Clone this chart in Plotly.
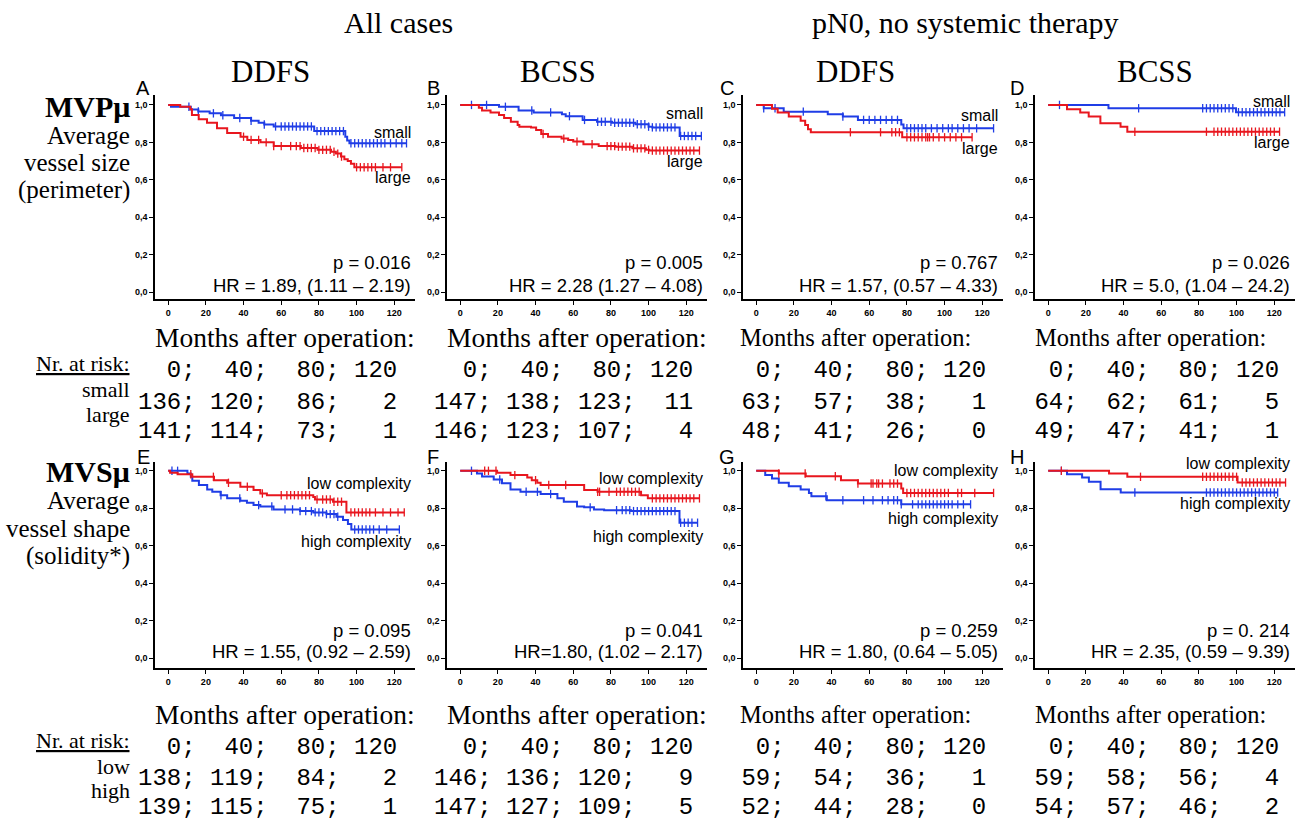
import plotly.graph_objects as go

W, H = 1303, 820
RED = "#e8161e"
BLUE = "#1f3de6"
SERIF = "Liberation Serif"
SANS = "Liberation Sans"
MONO = "Liberation Mono"

# ---------------- data ----------------
# Panel A : MVPmu, all cases, DDFS
A_small_t = [1.5, 12, 16, 22, 28, 35, 44, 48, 51, 56, 77.5, 94, 95, 96.2]
A_small_s = [0.99, 0.975, 0.965, 0.955, 0.945, 0.93, 0.915, 0.905, 0.895, 0.885, 0.86, 0.83, 0.81, 0.795]
A_small_c = [11, 16, 24, 29, 38, 44, 51, 57, 60, 62, 64, 66, 68, 70, 72, 74, 76, 79, 81, 83, 85, 87, 89, 91, 93,
             97, 99, 101, 103, 105, 107, 109, 111, 113, 115, 118, 121, 124, 126.5]
A_large_t = [6.4, 11.7, 12.6, 16.2, 20.6, 25.9, 31.3, 38.4, 42, 49, 56, 70.4, 79.3, 86.4, 89, 91.7, 93.5, 95.3, 97, 98.8]
A_large_s = [0.99, 0.977, 0.946, 0.923, 0.905, 0.875, 0.85, 0.83, 0.813, 0.80, 0.78, 0.77, 0.76, 0.75, 0.74, 0.724,
             0.71, 0.70, 0.685, 0.667]
A_large_c = [40, 44, 48, 52, 56, 60, 65, 68, 70, 72, 74, 76, 78, 80, 82, 84, 86, 88, 90, 92, 100, 102, 104, 106,
             108, 110, 114, 118, 124]

# Panel B : MVPmu, all cases, BCSS
B_small_t = [20.6, 31, 39, 54, 56, 65, 72.6, 80.6, 93, 100, 102, 116.5]
B_small_s = [0.99, 0.97, 0.96, 0.95, 0.94, 0.92, 0.91, 0.905, 0.897, 0.884, 0.88, 0.834]
B_small_c = [6, 14, 24, 38, 48, 58, 66, 73, 75, 77, 80, 82, 84, 86, 88, 90, 92, 94, 96, 98, 100, 102, 104, 106,
             108, 110, 112, 114, 117, 119, 121, 123, 125, 128]
B_large_t = [9.9, 11.6, 16.1, 20.6, 23.3, 26.9, 30.5, 31.4, 37.6, 40.3, 43, 46.6, 53.8, 57.3, 60, 65.4, 73.5,
             82.4, 91.4, 98.6, 100.4]
B_large_s = [0.985, 0.97, 0.96, 0.946, 0.93, 0.91, 0.893, 0.884, 0.88, 0.866, 0.845, 0.83, 0.82, 0.813, 0.804,
             0.79, 0.78, 0.777, 0.768, 0.76, 0.756]
B_large_c = [44, 55, 62, 70, 78, 80, 82, 84, 86, 88, 90, 92, 94, 96, 98, 100, 102, 104, 106, 108, 110, 112, 114,
             116, 118, 120, 122, 124, 127]

# Panel C : MVPmu, pN0 no systemic therapy, DDFS
C_small_t = [4, 14.6, 38, 46, 54, 77, 78.2]
C_small_s = [0.982, 0.964, 0.95, 0.938, 0.92, 0.895, 0.875]
C_small_c = [4, 10, 25, 46, 57, 60, 63, 66, 69, 72, 75, 80, 82, 84, 86, 88, 90, 93, 96, 99, 102, 104, 107, 110,
             113, 117, 126]
C_large_t = [8.4, 11.4, 17.3, 23.6, 26, 27.5, 29, 77.5]
C_large_s = [0.98, 0.96, 0.938, 0.916, 0.893, 0.87, 0.854, 0.827]
C_large_c = [50, 66, 72, 74, 76, 80, 82, 84, 86, 88, 90, 91, 92, 94, 97, 100, 103, 106, 109, 114.6]

# Panel D : MVPmu, pN0 no systemic therapy, BCSS
D_small_t = [32, 99.7]
D_small_s = [0.982, 0.961]
D_small_c = [6, 48, 82, 84, 86, 88, 90, 92, 94, 96, 98, 101, 103, 105, 107, 109, 111, 113, 115, 117, 119, 121,
             123, 125.5]
D_large_t = [10, 17, 21.5, 27.7, 38.4, 42]
D_large_s = [0.977, 0.96, 0.938, 0.902, 0.884, 0.857]
D_large_c = [46, 84, 88, 90, 92, 94, 96, 98, 100, 102, 104, 106, 108, 110, 112, 114, 116, 118, 120, 122.8]

# Panel E : MVSmu, all cases, DDFS
E_low_t = [1, 5, 12.8, 24.3, 31.3, 38.3, 45.3, 48.9, 52.4, 77, 77.9, 87.5, 94.6]
E_low_s = [0.99, 0.982, 0.968, 0.95, 0.936, 0.915, 0.897, 0.879, 0.87, 0.86, 0.847, 0.835, 0.778]
E_low_c = [12, 24, 32, 42, 50, 60, 63, 65, 67, 69, 71, 73, 75, 79, 82, 84, 86, 88, 90, 92, 97, 99, 101, 103, 105,
           107, 110, 114, 118, 122, 125.3]
E_high_t = [10.2, 12, 12.8, 16.3, 20.7, 23.4, 27.8, 31.3, 38.3, 41.8, 45.3, 48.9, 55.9, 70, 77, 84, 89.3, 92.8,
            95.4, 97.2]
E_high_s = [0.985, 0.968, 0.947, 0.924, 0.9, 0.888, 0.87, 0.853, 0.84, 0.83, 0.817, 0.81, 0.794, 0.785, 0.778,
            0.769, 0.755, 0.737, 0.716, 0.687]
E_high_c = [2, 5, 28, 38, 48, 55, 62, 66, 70, 73, 76, 78, 80, 82, 84, 86, 88, 90, 99, 101, 103, 105, 107, 109,
            112, 116, 122.7]

# Panel F : MVSmu, all cases, BCSS
F_low_t = [19.6, 26.7, 35.6, 38, 40.9, 42.7, 65.8, 72.9, 96, 99.6]
F_low_s = [0.99, 0.977, 0.964, 0.95, 0.936, 0.924, 0.897, 0.888, 0.87, 0.853]
F_low_c = [13, 15, 19, 29, 40, 47, 56, 73, 74, 79, 83, 85, 87, 89, 91, 93, 95, 102, 104, 106, 108, 110, 112, 114,
           116, 118, 120, 122, 124, 127]
F_high_t = [8.9, 11.6, 17.8, 22.2, 26.7, 32, 42.7, 51.6, 55, 62, 65.8, 71, 76.4, 90.7, 116.4]
F_high_s = [0.986, 0.97, 0.954, 0.933, 0.9, 0.888, 0.876, 0.853, 0.835, 0.81, 0.805, 0.794, 0.79, 0.785, 0.723]
F_high_c = [6, 21, 35, 41, 48, 69, 83, 86, 88, 90, 92, 94, 96, 98, 100, 102, 104, 106, 108, 110, 112, 114, 117,
            119, 121, 123, 126]

# Panel G : MVSmu, pN0 no systemic therapy, DDFS
G_low_t = [12, 26.3, 45, 54, 77, 78]
G_low_s = [0.986, 0.971, 0.95, 0.932, 0.905, 0.882]
G_low_c = [12, 26, 42, 54, 61, 62, 64, 65, 67, 71, 73, 75, 80, 82, 84, 86, 88, 90, 92, 94, 96, 98, 100, 102, 107,
           109, 116, 126]
G_high_t = [4.8, 8.4, 12, 17.3, 23.6, 28, 29.3, 37.5, 77]
G_high_s = [0.977, 0.959, 0.936, 0.918, 0.9, 0.882, 0.864, 0.843, 0.821]
G_high_c = [37, 46, 57, 62, 67, 70, 73, 75, 77, 83, 86, 88, 90, 92, 94, 96, 98, 100, 102, 104, 107, 110, 113.8]

# Panel H : MVSmu, pN0 no systemic therapy, BCSS
H_low_t = [32.3, 42, 100.5]
H_low_s = [0.986, 0.968, 0.9375]
H_low_c = [7, 49, 82, 84, 86, 88, 90, 92, 94, 96, 98, 100, 103, 105, 107, 109, 111, 113, 115, 117, 119, 121, 123,
           126]
H_high_t = [10, 18, 21.6, 27.8, 38.5]
H_high_s = [0.982, 0.964, 0.941, 0.902, 0.884]
H_high_c = [7, 46, 84, 86, 88, 90, 92, 94, 96, 98, 100, 102, 104, 106, 108, 110, 112, 114, 116, 118, 120, 121.8]

# numbers at risk at 0; 40; 80; 120 months
risk_months = [0, 40, 80, 120]
A_risk_small = [136, 120, 86, 2];  A_risk_large = [141, 114, 73, 1]
B_risk_small = [147, 138, 123, 11]; B_risk_large = [146, 123, 107, 4]
C_risk_small = [63, 57, 38, 1];    C_risk_large = [48, 41, 26, 0]
D_risk_small = [64, 62, 61, 5];    D_risk_large = [49, 47, 41, 1]
E_risk_low = [138, 119, 84, 2];    E_risk_high = [139, 115, 75, 1]
F_risk_low = [146, 136, 120, 9];   F_risk_high = [147, 127, 109, 5]
G_risk_low = [59, 54, 36, 1];      G_risk_high = [52, 44, 28, 0]
H_risk_low = [59, 58, 56, 4];      H_risk_high = [54, 57, 46, 2]

p_values = ["p = 0.016", "p = 0.005", "p = 0.767", "p = 0.026",
            "p = 0.095", "p = 0.041", "p = 0.259", "p = 0. 214"]
hr_texts = ["HR = 1.89, (1.11 – 2.19)", "HR = 2.28 (1.27 – 4.08)", "HR = 1.57, (0.57 – 4.33)",
            "HR = 5.0, (1.04 – 24.2)", "HR = 1.55, (0.92 – 2.59)", "HR=1.80, (1.02 – 2.17)",
            "HR = 1.80, (0.64 – 5.05)", "HR = 2.35, (0.59 – 9.39)"]
panel_letters = ["A", "B", "C", "D", "E", "F", "G", "H"]
x_ticks = [0, 20, 40, 60, 80, 100, 120]
y_ticks = [0.0, 0.2, 0.4, 0.6, 0.8, 1.0]
y_ticklabels = ["0,0", "0,2", "0,4", "0,6", "0,8", "1,0"]

# ---------------- layout geometry (pixels) ----------------
col_left = [155, 447, 743, 1035]
col_w = 260
row_top = [(95, 299), (462, 668)]
row_yrange = [[-0.037, 1.053], [-0.052, 1.047]]
xrange_ = [-7, 131]


def px(x):
    return x / W


def py(y):
    return 1 - y / H


def step_value(t_list, s_list, c):
    v = 1.0
    for t, s in zip(t_list, s_list):
        if t <= c:
            v = s
    return v


curves = [
    [(A_small_t, A_small_s, A_small_c, BLUE), (A_large_t, A_large_s, A_large_c, RED)],
    [(B_small_t, B_small_s, B_small_c, BLUE), (B_large_t, B_large_s, B_large_c, RED)],
    [(C_small_t, C_small_s, C_small_c, BLUE), (C_large_t, C_large_s, C_large_c, RED)],
    [(D_small_t, D_small_s, D_small_c, BLUE), (D_large_t, D_large_s, D_large_c, RED)],
    [(E_high_t, E_high_s, E_high_c, BLUE), (E_low_t, E_low_s, E_low_c, RED)],
    [(F_high_t, F_high_s, F_high_c, BLUE), (F_low_t, F_low_s, F_low_c, RED)],
    [(G_high_t, G_high_s, G_high_c, BLUE), (G_low_t, G_low_s, G_low_c, RED)],
    [(H_high_t, H_high_s, H_high_c, BLUE), (H_low_t, H_low_s, H_low_c, RED)],
]

fig = go.Figure()
layout_axes = {}
for i in range(8):
    r, c = divmod(i, 4)
    xn = "x" if i == 0 else f"x{i + 1}"
    yn = "y" if i == 0 else f"y{i + 1}"
    for (tl, sl, cl, col) in curves[i]:
        end = max(cl)
        xs = [0] + list(tl) + [end]
        ys = [1.0] + list(sl) + [sl[-1]]
        fig.add_trace(go.Scatter(x=xs, y=ys, mode="lines", line=dict(color=col, width=2, shape="hv"),
                                 xaxis=xn, yaxis=yn, showlegend=False, hoverinfo="skip"))
        cy = [step_value(tl, sl, cc) for cc in cl]
        fig.add_trace(go.Scatter(x=cl, y=cy, mode="markers",
                                 marker=dict(symbol="line-ns", size=6, color=col, line=dict(color=col, width=1.3)),
                                 xaxis=xn, yaxis=yn, showlegend=False, hoverinfo="skip"))
    top, bot = row_top[r]
    tickfont = dict(family=SANS, size=9, color="black", weight="bold")
    layout_axes["xaxis" if i == 0 else f"xaxis{i + 1}"] = dict(
        domain=[px(col_left[c]), px(col_left[c] + col_w)], anchor=yn, range=xrange_,
        showline=True, linecolor="black", linewidth=1.5, ticks="outside", ticklen=4, tickwidth=1,
        tickcolor="black", tickvals=x_ticks, tickfont=tickfont, showgrid=False, zeroline=False)
    layout_axes["yaxis" if i == 0 else f"yaxis{i + 1}"] = dict(
        domain=[py(bot), py(top)], anchor=xn, range=row_yrange[r],
        showline=True, linecolor="black", linewidth=1.5, ticks="outside", ticklen=4, tickwidth=1,
        tickcolor="black", tickvals=y_ticks, ticktext=y_ticklabels, tickfont=tickfont,
        showgrid=False, zeroline=False)

ann = []


def add(text, x, y, size, family=SERIF, xanchor="center", color="black"):
    ann.append(dict(text=text, x=px(x), y=py(y), xref="paper", yref="paper", showarrow=False,
                    xanchor=xanchor, yanchor="middle", font=dict(family=family, size=size, color=color)))


# titles
add("All cases", 398, 22, 30)
add("pN0, no systemic therapy", 965, 22, 30)
for xc, t in zip([270, 558, 855, 1155], ["DDFS", "BCSS", "DDFS", "BCSS"]):
    add(t, xc, 72, 31)

# panel letters
letter_x = [143, 433, 727, 1017]
for i, L in enumerate(panel_letters):
    r, c = divmod(i, 4)
    add(L, letter_x[c], [88, 457][r], 20, SANS)

# row labels
add("<b>MVPμ</b>", 132, 106, 30, xanchor="right")
add("Average", 132, 135, 25, xanchor="right")
add("vessel size", 132, 163, 25, xanchor="right")
add("(perimeter)", 132, 190, 25, xanchor="right")
add("<b>MVSμ</b>", 132, 472, 30, xanchor="right")
add("Average", 132, 500, 25, xanchor="right")
add("vessel shape", 132, 528, 25, xanchor="right")
add("(solidity*)", 132, 556, 25, xanchor="right")

# group labels inside panels
right_x = [413, 705, 1000, 1292]
top_labels_y = [(132, 178), (113, 162), (115, 149), (101, 143)]
bot_labels_y = [(483, 541), (479, 536), (471, 518), (464, 503)]
for c in range(4):
    add("small", right_x[c], top_labels_y[c][0], 16, SANS, "right")
    add("large", right_x[c], top_labels_y[c][1], 16, SANS, "right")
    add("low complexity", right_x[c], bot_labels_y[c][0], 16, SANS, "right")
    add("high complexity", right_x[c], bot_labels_y[c][1], 16, SANS, "right")
for i in range(8):
    r, c = divmod(i, 4)
    add(p_values[i], right_x[c], [262, 630][r], 18.5, SANS, "right")
    add(hr_texts[i], right_x[c], [285, 651][r], 18.5, SANS, "right")

# months label and risk tables
months_x = [153, 445, 738, 1033]
months_size = [27.5, 27.5, 24.5, 24.5]
table_x = [136, 432, 725, 1018]
risk_rows = [
    [(A_risk_small, A_risk_large), (B_risk_small, B_risk_large), (C_risk_small, C_risk_large),
     (D_risk_small, D_risk_large)],
    [(E_risk_low, E_risk_high), (F_risk_low, F_risk_high), (G_risk_low, G_risk_high),
     (H_risk_low, H_risk_high)],
]


def fmt(vals):
    s = "; ".join(f"{v:>3d}" for v in vals[:-1]) + "; " + f"{vals[-1]:>3d}"
    return s.replace(" ", "\u00a0")


for r in range(2):
    base = [0, 376][r]
    for c in range(4):
        add("Months after operation:", months_x[c], 338 + base, months_size[c], xanchor="left")
        g1, g2 = risk_rows[r][c]
        add(fmt(risk_months), table_x[c], 371 + base, 24, MONO, "left")
        add(fmt(g1), table_x[c], 402 + base, 24, MONO, "left")
        add(fmt(g2), table_x[c], 431 + base, 24, MONO, "left")
    add("<u>Nr. at risk:</u>", 132, 364 + base, 22, xanchor="right")

add("small", 132, 389, 22, xanchor="right")
add("large", 132, 414, 22, xanchor="right")
add("low", 132, 766, 22, xanchor="right")
add("high", 132, 790, 22, xanchor="right")

fig.update_layout(width=W, height=H, margin=dict(l=0, r=0, t=0, b=0), paper_bgcolor="white",
                  plot_bgcolor="white", annotations=ann, showlegend=False, **layout_axes)
fig.write_html("out.html", config={"displayModeBar": False},
               post_script="document.body.style.margin='0px';document.body.style.overflow='hidden';")
